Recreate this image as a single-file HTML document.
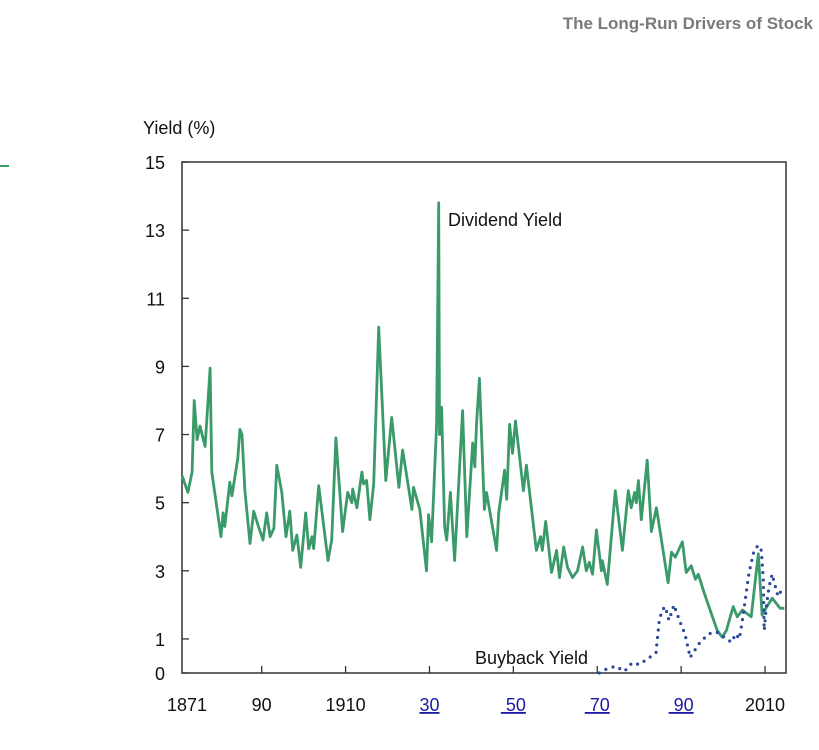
<!DOCTYPE html>
<html><head><meta charset="utf-8"><style>
html,body{margin:0;padding:0;background:#fff;width:819px;height:750px;overflow:hidden;font-family:"Liberation Sans",sans-serif}
svg{position:absolute;left:0;top:0}
</style></head><body>
<svg width="819" height="750">
<text x="813" y="29" text-anchor="end" font-size="17" font-weight="bold" fill="#7a7a7a">The Long-Run Drivers of Stock</text>
<line x1="0" y1="166" x2="9" y2="166" stroke="#3a9a6a" stroke-width="2"/>
<text x="143" y="134" font-size="18" fill="#111">Yield (%)</text>
<g id="plot"></g>
</svg>
<script>
const yTicks=[0,1,3,5,7,9,11,13,15];
const xTickYears=[1871,1890,1910,1930,1950,1970,1990,2010];
const xTickLabels=["1871","90","1910","30","\u00a050","\u00a070","\u00a090","2010"];
const divYears=[1871,1872.4,1873.4,1873.9,1874.6,1875.3,1876.5,1877.7,1878.1,1880.3,1880.8,1881.2,1882.4,1882.9,1884.3,1884.8,1885.3,1886,1887.2,1888.1,1889.1,1890.3,1891.2,1892,1892.9,1893.6,1894.8,1895.8,1896.7,1897.4,1898.4,1899.3,1900.5,1901.2,1902,1902.4,1903.6,1905.8,1906.7,1907.7,1909.3,1910.5,1911.5,1911.7,1912.7,1913.9,1914.3,1915,1915.8,1916.7,1917.9,1919.6,1921,1922.7,1923.6,1925,1925.8,1926.2,1927.7,1929.3,1929.8,1930.5,1931.7,1932.2,1932.4,1932.9,1933.6,1934.1,1935,1936,1937.9,1938.9,1940.3,1940.8,1941.2,1941.9,1943.1,1943.6,1946,1946.5,1947.9,1948.4,1949.1,1949.8,1950.5,1951,1952.4,1953.1,1955.5,1956.5,1956.9,1957.7,1959.1,1960.3,1961,1962,1962.9,1964.1,1965.3,1966.5,1967.4,1968.1,1968.9,1969.8,1971,1971.2,1972.4,1974.3,1976,1977.4,1978.1,1978.9,1979.3,1979.8,1980.5,1981.9,1982.9,1984.1,1986.9,1987.7,1988.6,1990.3,1991.2,1992.4,1993.4,1994.1,1995.5,1998.6,1999.8,2000.8,2002.4,2003.4,2004.6,2006.7,2008.4,2009.3,2010.2,2011.7,2013.6,2014.6];
const divValues=[5.8,5.3,5.9,8.0,6.85,7.25,6.65,8.95,5.9,4.0,4.7,4.3,5.6,5.2,6.3,7.15,7.0,5.35,3.8,4.75,4.35,3.9,4.7,4.0,4.25,6.1,5.3,4.0,4.75,3.6,4.05,3.1,4.7,3.65,4.0,3.65,5.5,3.3,3.9,6.9,4.15,5.3,5.0,5.4,4.85,5.9,5.55,5.65,4.5,5.55,10.15,5.65,7.5,5.45,6.55,5.45,4.8,5.45,4.8,3.0,4.65,3.85,7.3,13.8,7.0,7.8,4.3,3.9,5.3,3.3,7.7,4.0,6.75,6.05,7.3,8.65,4.8,5.3,3.6,4.7,5.95,5.1,7.3,6.45,7.4,6.85,5.35,6.1,3.6,4.0,3.6,4.45,2.95,3.6,2.8,3.7,3.1,2.8,3.0,3.7,3.0,3.25,2.9,4.2,3.0,3.3,2.6,5.35,3.6,5.35,4.85,5.3,5.0,5.65,4.5,6.25,4.15,4.85,2.65,3.55,3.4,3.85,2.95,3.15,2.75,2.9,2.35,1.25,1.05,1.25,1.95,1.65,1.85,1.65,3.5,1.7,1.9,2.2,1.9,1.9];
const buyYears=[1970.5,1971.9,1974.3,1976.5,1978.3,1980,1982.4,1984,1984.3,1984.8,1985.5,1986.2,1987.1,1988.3,1989,1990.2,1990.9,1991.9,1992.1,1994.5,1996.6,1998.5,1999.7,2002,2003,2003.9,2004.8,2005.5,2006.2,2007.4,2008.4,2009.1,2009.6,2009.8,2010.3,2011,2011.7,2012.2,2013.1,2013.8];
const buyValues=[0,0.1,0.2,0.05,0.3,0.25,0.45,0.6,0.95,1.55,1.85,1.95,1.55,2.0,1.75,1.35,1.15,0.6,0.45,0.9,1.15,1.2,1.1,0.9,1.15,1.0,1.7,2.35,2.95,3.6,3.75,3.6,2.75,1.25,1.95,2.55,2.9,2.65,2.25,2.4];

const NS="http://www.w3.org/2000/svg";
const X0=182,X1=786,Y0=673,Y1=162,YR0=1871,YR1=2015;
function sx(yr){return X0+(yr-YR0)/(YR1-YR0)*(X1-X0);}
function sy(v){return Y0-v/15*(Y0-Y1);}
const g=document.getElementById('plot');
function mk(tag,attrs){const e=document.createElementNS(NS,tag);for(const k in attrs)e.setAttribute(k,attrs[k]);g.appendChild(e);return e;}

yTicks.forEach(v=>{
  const t=mk('line',{x1:X0,x2:X0+7,y1:sy(v),y2:sy(v),stroke:'#333','stroke-width':1.3});
  
  
  const l=mk('text',{x:165,y:sy(v)+7,'text-anchor':'end','font-size':18,fill:'#111'});
  l.textContent=v;
  
  
});
xTickYears.forEach((yr,i)=>{
  if(i>0){const t=mk('line',{x1:sx(yr),x2:sx(yr),y1:Y0,y2:Y0-7,stroke:'#333','stroke-width':1.3});
  
  }
  const link=i>=3&&i<=6;
  const l=mk('text',{x:sx(yr)+(i==0?5:0),y:711,'text-anchor':'middle','font-size':18,fill:link?'#1a1aa6':'#111','text-decoration':link?'underline':'none'});
  l.textContent=xTickLabels[i];
  
  
});
const frame=mk('rect',{x:X0,y:Y1,width:X1-X0,height:Y0-Y1,fill:'none',stroke:'#333','stroke-width':1.5});



const dp=divYears.map((yr,i)=>sx(yr).toFixed(1)+','+sy(divValues[i]).toFixed(1)).join(' ');
const dl=mk('polyline',{points:dp,fill:'none',stroke:'#3a9a6a','stroke-width':2.8,'stroke-linejoin':'round'});


const bp=buyYears.map((yr,i)=>sx(yr).toFixed(1)+','+sy(buyValues[i]).toFixed(1)).join(' ');
const bl=mk('polyline',{points:bp,fill:'none',stroke:'#2e4a9a','stroke-width':3.2,'stroke-dasharray':'0 7.5','stroke-linecap':'round'});



const t1=mk('text',{x:448,y:226,'font-size':18,fill:'#111'});t1.textContent='Dividend Yield';


const t2=mk('text',{x:475,y:664,'font-size':18,fill:'#111'});t2.textContent='Buyback Yield';


</script>
</body></html>
